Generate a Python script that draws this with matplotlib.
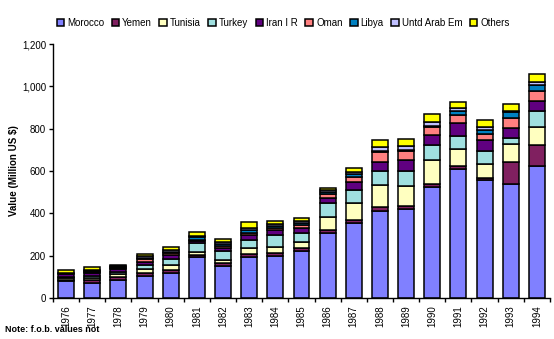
import numpy as np
import matplotlib.pyplot as plt

years = [str(y) for y in range(1976, 1995)]
countries = ['Morocco', 'Yemen', 'Tunisia', 'Turkey', 'Iran I R', 'Oman', 'Libya',
             'Untd Arab Em', 'Others']

morocco = [79, 72, 87, 106, 118, 193, 153, 195, 200, 221, 306, 356, 413, 422, 525, 608, 556, 537, 622]
yemen = [8, 12, 12, 10, 12, 8, 10, 14, 14, 14, 14, 14, 16, 14, 14, 14, 10, 104, 102]
tunisia = [8, 10, 12, 20, 25, 18, 18, 26, 28, 28, 62, 78, 104, 94, 112, 80, 68, 86, 86]
turkey = [6, 10, 12, 18, 30, 40, 42, 40, 55, 44, 68, 62, 68, 72, 72, 62, 62, 30, 72]
iran = [12, 16, 12, 18, 16, 8, 12, 22, 22, 22, 24, 40, 44, 50, 48, 62, 52, 46, 50]
oman = [3, 5, 6, 10, 10, 8, 10, 12, 10, 16, 18, 24, 46, 42, 38, 38, 28, 48, 44]
libya = [2, 3, 5, 8, 8, 12, 10, 12, 12, 10, 10, 10, 6, 6, 6, 18, 18, 26, 30]
uae = [2, 5, 5, 8, 8, 8, 8, 12, 10, 10, 8, 10, 16, 16, 18, 14, 14, 8, 16]
others = [13, 15, 4, 10, 14, 18, 18, 24, 12, 12, 12, 22, 32, 34, 38, 32, 34, 30, 36]

series = [morocco, yemen, tunisia, turkey, iran, oman, libya, uae, others]
colors = ['#8080FF', '#802060', '#FFFFC0', '#A0E0E0', '#600080', '#FF8080', '#0080C0',
          '#C0C0FF', '#FFFF00']

plt.rcParams['font.family'] = ['Liberation Sans', 'DejaVu Sans']

fig = plt.figure(figsize=(5.54, 3.39), dpi=100)
ax = fig.add_axes([0.0957, 0.121, 0.897, 0.749])

x = np.arange(len(years))
bottom = np.zeros(len(years))
handles = []
for name, vals, c in zip(countries, series, colors):
    b = ax.bar(x, vals, 0.61, bottom=bottom, color=c, edgecolor='black', linewidth=1.1,
               label=name)
    bottom += np.array(vals)
    handles.append(b)

ax.set_xlim(-0.5, len(years) - 0.5)
ax.set_ylim(0, 1200)
ax.set_yticks(range(0, 1201, 200))
ax.set_yticklabels([f'{v:,}' for v in range(0, 1201, 200)], fontsize=7)
ax.set_xticks(x)
ax.set_xticklabels(years, rotation=90, fontsize=7)
ax.set_xticks(np.arange(-0.5, len(years)), minor=True)
ax.tick_params(axis='x', which='major', length=0, pad=5)
ax.tick_params(axis='x', which='minor', length=3, width=1, direction='out')
ax.tick_params(axis='y', length=3, width=1, direction='out', pad=2)
for each in ['top', 'right']:
    ax.spines[each].set_visible(False)
for each in ['left', 'bottom']:
    ax.spines[each].set_linewidth(1.0)

ax.set_ylabel('Value (Million US $)', fontsize=7, fontweight='bold')
ax.yaxis.set_label_coords(-0.068, 0.5)

fig.legend(handles=handles, labels=countries, loc='center left',
           bbox_to_anchor=(0.102, 0.932), ncol=9, frameon=False, fontsize=7,
           handlelength=0.8, handleheight=0.8, handletextpad=0.3, columnspacing=0.75,
           borderaxespad=0, borderpad=0)

fig.text(0.009, 0.02, 'Note: f.o.b. values not', fontsize=6.5, fontweight='bold')

fig.savefig('out.png', dpi=100)
